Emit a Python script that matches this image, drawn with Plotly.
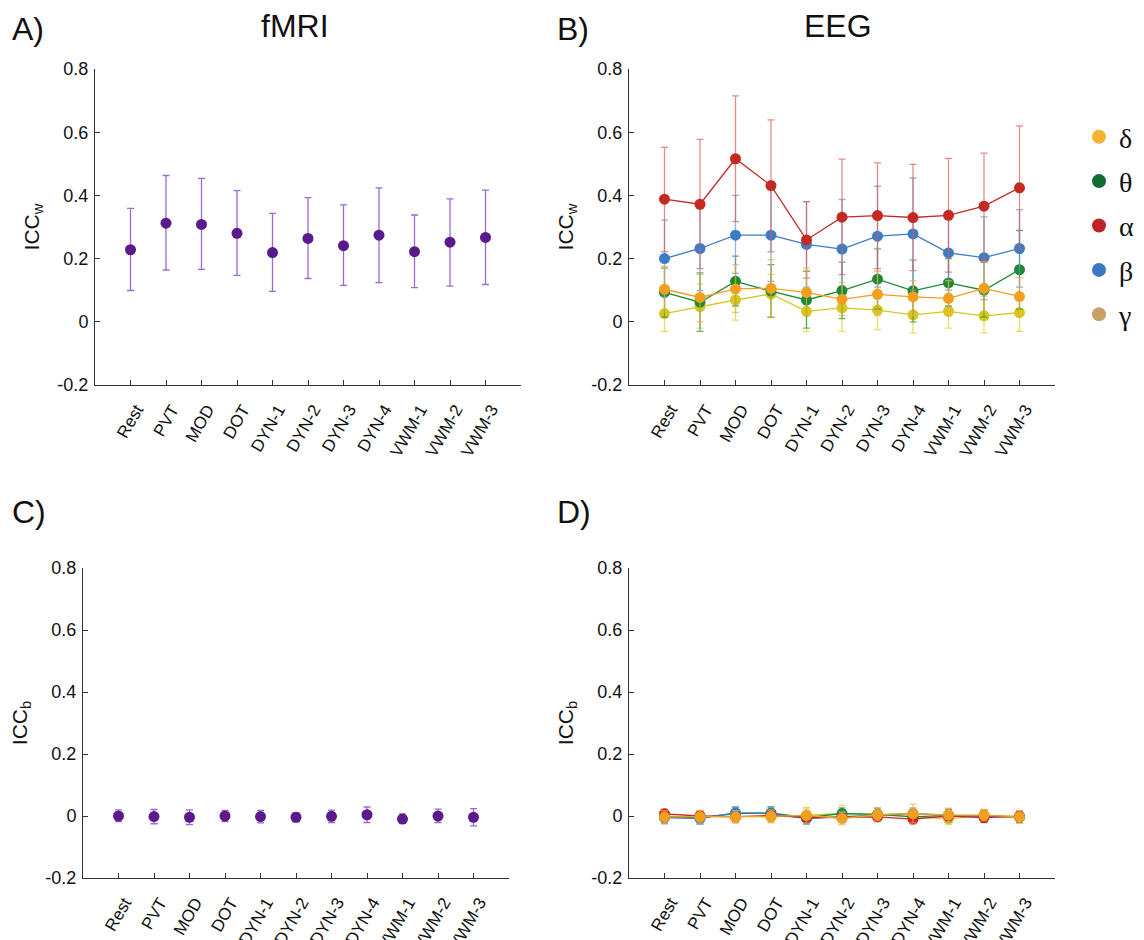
import plotly.graph_objects as go

tasks = ["Rest", "PVT", "MOD", "DOT", "DYN-1", "DYN-2", "DYN-3", "DYN-4", "VWM-1", "VWM-2", "VWM-3"]
ytick_vals = [0.8, 0.6, 0.4, 0.2, 0, -0.2]
ytick_text = ["0.8", "0.6", "0.4", "0.2", "0", "-0.2"]

# Panel A: fMRI ICC_w (mean, upper, lower)
fmri_w = [0.228, 0.312, 0.308, 0.280, 0.219, 0.264, 0.241, 0.274, 0.222, 0.252, 0.267]
fmri_w_hi = [0.359, 0.463, 0.454, 0.415, 0.343, 0.393, 0.370, 0.424, 0.338, 0.389, 0.417]
fmri_w_lo = [0.099, 0.164, 0.166, 0.147, 0.096, 0.137, 0.115, 0.124, 0.108, 0.113, 0.118]

# Panel B: EEG ICC_w per band
delta_w = [0.103, 0.077, 0.104, 0.106, 0.093, 0.071, 0.087, 0.079, 0.074, 0.106, 0.080]
delta_w_hi = [0.175, 0.150, 0.181, 0.197, 0.170, 0.125, 0.160, 0.130, 0.130, 0.190, 0.140]
delta_w_lo = [0.030, 0.000, 0.030, 0.015, 0.020, 0.020, 0.020, 0.020, 0.020, 0.030, 0.020]

theta_w = [0.093, 0.062, 0.128, 0.097, 0.069, 0.099, 0.135, 0.098, 0.123, 0.100, 0.165]
theta_w_hi = [0.170, 0.155, 0.208, 0.181, 0.160, 0.189, 0.231, 0.195, 0.200, 0.190, 0.289]
theta_w_lo = [0.015, -0.030, 0.050, 0.014, -0.020, 0.010, 0.040, 0.000, 0.050, 0.015, 0.040]

alpha_w = [0.388, 0.372, 0.516, 0.431, 0.259, 0.331, 0.336, 0.330, 0.337, 0.366, 0.424]
alpha_w_hi = [0.552, 0.577, 0.715, 0.639, 0.380, 0.515, 0.503, 0.498, 0.517, 0.534, 0.620]
alpha_w_lo = [0.222, 0.168, 0.317, 0.221, 0.138, 0.149, 0.168, 0.162, 0.157, 0.197, 0.230]

beta_w = [0.200, 0.232, 0.274, 0.274, 0.245, 0.230, 0.271, 0.278, 0.218, 0.203, 0.232]
beta_w_hi = [0.322, 0.370, 0.400, 0.429, 0.380, 0.387, 0.429, 0.455, 0.337, 0.332, 0.355]
beta_w_lo = [0.080, 0.099, 0.153, 0.128, 0.110, 0.070, 0.110, 0.100, 0.100, 0.070, 0.110]

gamma_w = [0.026, 0.048, 0.069, 0.088, 0.033, 0.044, 0.037, 0.022, 0.033, 0.019, 0.029]
gamma_w_hi = [0.100, 0.120, 0.130, 0.150, 0.100, 0.110, 0.100, 0.080, 0.090, 0.080, 0.090]
gamma_w_lo = [-0.030, -0.020, 0.005, 0.015, -0.030, -0.030, -0.025, -0.035, -0.020, -0.035, -0.030]

# Panel C: fMRI ICC_b
fmri_b = [0.000, -0.002, -0.004, 0.000, -0.002, -0.004, -0.001, 0.004, -0.010, 0.000, -0.004]
fmri_b_hi = [0.020, 0.021, 0.020, 0.018, 0.018, 0.011, 0.019, 0.029, 0.007, 0.022, 0.024]
fmri_b_lo = [-0.018, -0.025, -0.028, -0.018, -0.022, -0.019, -0.021, -0.021, -0.024, -0.021, -0.032]

# Panel D: EEG ICC_b per band
delta_b = [-0.003, -0.003, -0.003, -0.001, 0.002, -0.008, 0.004, 0.008, 0.003, 0.003, -0.003]
theta_b = [-0.003, -0.005, 0.008, 0.010, -0.005, 0.008, 0.005, -0.003, 0.002, -0.001, -0.003]
alpha_b = [0.007, 0.000, -0.003, 0.002, -0.005, -0.005, -0.003, -0.010, 0.000, -0.005, -0.001]
beta_b = [-0.005, -0.008, 0.010, 0.008, -0.008, -0.003, 0.004, 0.008, 0.002, -0.001, -0.003]
gamma_b = [-0.001, 0.000, -0.001, -0.003, 0.002, 0.008, 0.005, -0.001, -0.009, 0.002, -0.001]
delta_b_err = [0.020, 0.020, 0.020, 0.020, 0.025, 0.020, 0.020, 0.030, 0.022, 0.018, 0.020]
theta_b_err = [0.020, 0.020, 0.020, 0.020, 0.020, 0.018, 0.020, 0.020, 0.020, 0.020, 0.018]
alpha_b_err = [0.015, 0.015, 0.015, 0.015, 0.015, 0.015, 0.015, 0.015, 0.015, 0.015, 0.015]
beta_b_err = [0.020, 0.018, 0.020, 0.020, 0.018, 0.018, 0.020, 0.018, 0.018, 0.018, 0.018]
gamma_b_err = [0.018, 0.018, 0.020, 0.018, 0.020, 0.026, 0.020, 0.022, 0.018, 0.018, 0.018]

band_names = ["δ", "θ", "α", "β", "γ"]
legend_colors = ["#f6b233", "#116b35", "#bf2226", "#3a78c2", "#c9a06a"]

FONT = "Liberation Sans, Arial, Helvetica, sans-serif"

fig = go.Figure()

purple = "#5a1a8c"
purple_err = "rgba(140, 80, 200, 0.85)"


def add_err_trace(y, hi, lo, xa, ya, color, ecolor, lines=True, symmetric=None):
    if symmetric is not None:
        err = dict(type="data", array=symmetric, visible=True, color=ecolor, thickness=1.3, width=3.5)
    else:
        up = [h - v for h, v in zip(hi, y)]
        dn = [v - l for l, v in zip(lo, y)]
        err = dict(type="data", symmetric=False, array=up, arrayminus=dn, visible=True,
                   color=ecolor, thickness=1.3, width=3.5)
    fig.add_trace(go.Scatter(
        x=tasks, y=y, xaxis=xa, yaxis=ya,
        mode="lines+markers" if lines else "markers",
        line=dict(color=color, width=1.3),
        marker=dict(color=color, size=11),
        error_y=err, showlegend=False, hoverinfo="skip"))


# Panel A
add_err_trace(fmri_w, fmri_w_hi, fmri_w_lo, "x", "y", purple, purple_err, lines=False)
# Panel C
add_err_trace(fmri_b, fmri_b_hi, fmri_b_lo, "x3", "y3", purple, purple_err, lines=False)

band_series_w = {
    "γ": (gamma_w, gamma_w_hi, gamma_w_lo, "#d5c921", "rgba(220, 205, 40, 0.7)"),
    "θ": (theta_w, theta_w_hi, theta_w_lo, "#1e8b34", "rgba(40, 150, 60, 0.7)"),
    "β": (beta_w, beta_w_hi, beta_w_lo, "#3a7cc6", "rgba(90, 150, 215, 0.7)"),
    "α": (alpha_w, alpha_w_hi, alpha_w_lo, "#c42a24", "rgba(220, 90, 90, 0.7)"),
    "δ": (delta_w, delta_w_hi, delta_w_lo, "#f0a01e", "rgba(245, 170, 60, 0.7)"),
}
for name, (y, hi, lo, c, ec) in band_series_w.items():
    add_err_trace(y, hi, lo, "x2", "y2", c, ec)

band_series_b = {
    "γ": (gamma_b, gamma_b_err, "#d5c921", "rgba(220, 205, 40, 0.7)"),
    "θ": (theta_b, theta_b_err, "#1e8b34", "rgba(40, 150, 60, 0.7)"),
    "β": (beta_b, beta_b_err, "#3a7cc6", "rgba(90, 150, 215, 0.7)"),
    "α": (alpha_b, alpha_b_err, "#c42a24", "rgba(220, 90, 90, 0.7)"),
    "δ": (delta_b, delta_b_err, "#f0a01e", "rgba(245, 170, 60, 0.7)"),
}
for name, (y, e, c, ec) in band_series_b.items():
    add_err_trace(y, None, None, "x4", "y4", c, ec, symmetric=e)

# Legend entries
for i, (name, col) in enumerate(zip(band_names, legend_colors)):
    fig.add_trace(go.Scatter(
        x=[None], y=[None], xaxis="x2", yaxis="y2", mode="markers",
        marker=dict(color=col, size=14), name=name, legendgroup=f"g{i}",
        showlegend=True))

# The page body has an 8px default margin: shrink the figure and shift targets.
OFF = 8
W, H = 1144 - OFF, 940 - OFF


def xdom(a, b):
    return [(a - OFF) / W, (b - OFF) / W]


def ydom(top, bottom):
    return [1 - (bottom - OFF) / H, 1 - (top - OFF) / H]


xaxis_common = dict(
    type="category", range=[-1, 11], showline=True, linecolor="#333333", linewidth=1,
    ticks="inside", ticklen=5, tickcolor="#333333", tickangle=-60, automargin=False,
    ticklabelshift=6, ticklabelstandoff=7,
    tickfont=dict(family=FONT, size=17, color="#111111"), showgrid=False, zeroline=False,
    fixedrange=True,
)
yaxis_common = dict(
    range=[-0.2, 0.8], showline=True, linecolor="#333333", linewidth=1, automargin=False,
    ticks="inside", ticklen=5, tickcolor="#333333", tickvals=ytick_vals, ticktext=ytick_text,
    ticklabelstandoff=2,
    tickfont=dict(family=FONT, size=18, color="#111111"), showgrid=False, zeroline=False,
    title_font=dict(family=FONT, size=21, color="#111111"), title_standoff=12,
)

fig.update_layout(
    width=W, height=H,
    margin=dict(l=0, r=0, t=0, b=0),
    paper_bgcolor="white", plot_bgcolor="white",
    xaxis=dict(xaxis_common, domain=xdom(95, 521), anchor="y"),
    yaxis=dict(yaxis_common, domain=ydom(69, 385), anchor="x", title_text="ICC<sub>w</sub>"),
    xaxis2=dict(xaxis_common, domain=xdom(629, 1055), anchor="y2"),
    yaxis2=dict(yaxis_common, domain=ydom(69, 385), anchor="x2", title_text="ICC<sub>w</sub>"),
    xaxis3=dict(xaxis_common, domain=xdom(83, 509), anchor="y3"),
    yaxis3=dict(yaxis_common, domain=ydom(568, 878), anchor="x3", title_text="ICC<sub>b</sub>"),
    xaxis4=dict(xaxis_common, domain=xdom(629, 1055), anchor="y4"),
    yaxis4=dict(yaxis_common, domain=ydom(568, 878), anchor="x4", title_text="ICC<sub>b</sub>"),
    legend=dict(
        x=(1079 - OFF) / W, y=1 - (112 - OFF) / H, xanchor="left", yanchor="top",
        font=dict(family="Liberation Serif, Times New Roman, serif", size=28, color="#111111"),
        traceorder="grouped", tracegroupgap=5, itemwidth=30, bgcolor="rgba(0,0,0,0)",
    ),
    showlegend=True,
)

annots = [
    ("A)", 10, 29, "left"), ("fMRI", 295, 26, "center"),
    ("B)", 555, 29, "left"), ("EEG", 838, 26, "center"),
    ("C)", 10, 512, "left"), ("D)", 555, 512, "left"),
]
for text, px, py, anchor in annots:
    fig.add_annotation(
        text=text, x=(px - OFF) / W, y=1 - (py - OFF) / H, xref="paper", yref="paper",
        xanchor=anchor, yanchor="middle", showarrow=False,
        font=dict(family=FONT, size=32, color="#111111"))

fig.write_html("out.html")
